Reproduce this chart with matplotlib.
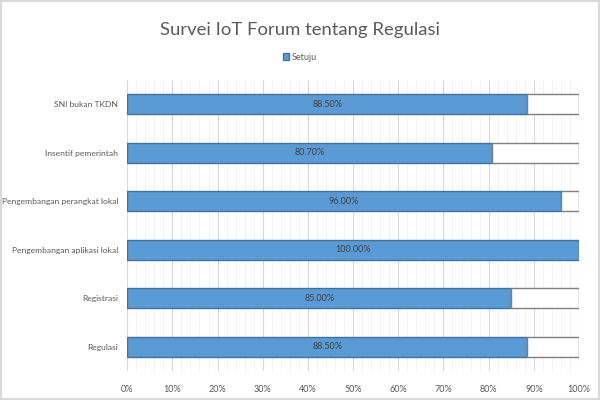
import matplotlib
matplotlib.use("Agg")
import matplotlib.pyplot as plt
import matplotlib.patches as mpatches
from matplotlib.ticker import MultipleLocator, FuncFormatter

categories = ["Regulasi", "Registrasi", "Pengembangan aplikasi lokal",
              "Pengembangan perangkat lokal", "Insentif pemerintah", "SNI bukan TKDN"]
setuju = [88.5, 85.0, 100.0, 96.0, 80.7, 88.5]
rest = [100 - v for v in setuju]

BLUE = "#5B9BD5"
EDGE = "#41719C"
TEXT = "#595959"

plt.rcParams["font.family"] = ["Lato", "DejaVu Sans"]

fig = plt.figure(figsize=(6, 4), dpi=100)
fig.patch.set_facecolor("white")
fig.patches.append(mpatches.Rectangle((0.002, 0.002), 0.996, 0.996, transform=fig.transFigure,
                                      fill=False, edgecolor="#D9D9D9", linewidth=1.5))
ax = fig.add_axes([0.212, 0.0725, 0.753, 0.7275])

y = range(len(categories))
ax.barh(y, setuju, height=0.42, color=BLUE, edgecolor=EDGE, linewidth=1.0, zorder=3)
ax.barh(y, rest, left=setuju, height=0.42, color="white", edgecolor="#7F7F7F",
        linewidth=1.0, zorder=3)

for i, v in enumerate(setuju):
    ax.text(v / 2, i, f"{v:.2f}%", ha="center", va="center", fontsize=6.5,
            color="#404040", zorder=4)

ax.set_xlim(0, 100)
ax.set_ylim(-0.5, len(categories) - 0.5)
ax.set_yticks(list(y))
ax.set_yticklabels(categories, fontsize=6.1, color=TEXT)
ax.xaxis.set_major_locator(MultipleLocator(10))
ax.xaxis.set_minor_locator(MultipleLocator(2))
ax.xaxis.set_major_formatter(FuncFormatter(lambda v, p: f"{v:.0f}%"))
ax.tick_params(axis="x", labelsize=6.5, colors=TEXT, length=0, which="both", pad=10)
ax.tick_params(axis="y", length=0, pad=6.5)
ax.grid(axis="x", which="major", color="#D9D9D9", linewidth=0.8, zorder=0)
ax.grid(axis="x", which="minor", color="#F0F0F0", linewidth=0.6, zorder=0)
for s in ax.spines.values():
    s.set_visible(False)

fig.text(0.5, 0.925, "Survei IoT Forum tentang Regulasi", ha="center", va="center",
         fontsize=13.3, color=TEXT)
ax.legend(handles=[mpatches.Patch(facecolor=BLUE, edgecolor=EDGE, label="Setuju")],
          loc="center", bbox_to_anchor=(0.5, 0.857), bbox_transform=fig.transFigure,
          frameon=False, fontsize=6.5, labelcolor=TEXT, handlelength=0.7,
          handleheight=0.7, handletextpad=0.3)

fig.savefig("out.png", dpi=100, facecolor="white")
